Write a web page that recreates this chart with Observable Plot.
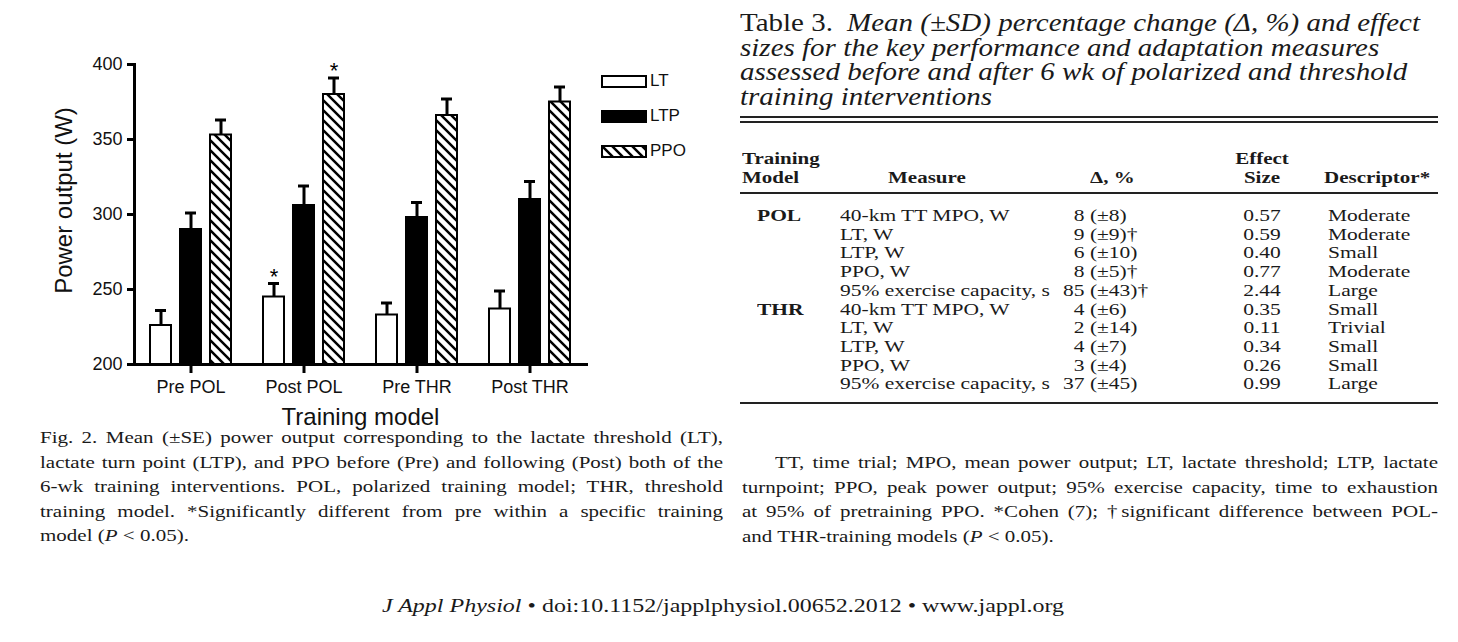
<!DOCTYPE html>
<html>
<head>
<meta charset="utf-8">
<script src="https://cdn.jsdelivr.net/npm/d3@7"></script>
<script src="https://cdn.jsdelivr.net/npm/@observablehq/plot@0.6"></script>
<style>
  html, body { margin: 0; padding: 0; background: #fff; }
  body { width: 1458px; height: 642px; position: relative; overflow: hidden; color: #222; }
  #chart { position: absolute; left: 0; top: 0; }
  #chart g[aria-label="y-axis label"] { font-size: 24px; translate: 0px -14px; }
  #chart g[aria-label="fx-axis label"] { font-size: 24px; }
  .legend { position: absolute; font-family: 'Liberation Sans', Arial, sans-serif; font-size: 17px; color: #111; }
  .rule { position: absolute; background: #222; }
</style>
</head>
<body>
<svg width="0" height="0" style="position:absolute;left:0;top:0">
  <defs>
    <pattern id="hatch" patternUnits="userSpaceOnUse" width="10" height="10">
      <rect width="10" height="10" fill="white"></rect>
      <path d="M-5,5 L5,15 M0,0 L10,10 M5,-5 L15,5" stroke="black" stroke-width="2.5"></path>
    </pattern>
  </defs>
</svg>
<div id="chart"></div>
<script>
// ---------- chart data ----------
const groups = ["Pre POL", "Post POL", "Pre THR", "Post THR"];
const series = ["LT", "LTP", "PPO"];
const ltMean = [226, 245, 233, 237];
const ltSE = [10, 9, 8, 12];
const ltSig = [false, true, false, false];
const ltpMean = [290, 306, 298, 310];
const ltpSE = [11, 13, 10, 12];
const ltpSig = [false, false, false, false];
const ppoMean = [353, 380, 366, 375];
const ppoSE = [10, 11, 11, 10];
const ppoSig = [false, true, false, false];
const yTicks = [200, 250, 300, 350, 400];
const seriesFill = ["white", "black", "url(#hatch)"];

// ---------- table data ----------
const tableTitleLines = [
  "Mean (±SD) percentage change (Δ, %) and effect",
  "sizes for the key performance and adaptation measures",
  "assessed before and after 6 wk of polarized and threshold",
  "training interventions"
];
const models = ["POL", "THR"];
const measures = ["40-km TT MPO, W", "LT, W", "LTP, W", "PPO, W", "95% exercise capacity, s"];
const polMean = [8, 9, 6, 8, 85];
const polSD = [8, 9, 10, 5, 43];
const polDagger = [false, true, false, true, true];
const polES = ["0.57", "0.59", "0.40", "0.77", "2.44"];
const polDesc = ["Moderate", "Moderate", "Small", "Moderate", "Large"];
const thrMean = [4, 2, 4, 3, 37];
const thrSD = [6, 14, 7, 4, 45];
const thrDagger = [false, false, false, false, false];
const thrES = ["0.35", "0.11", "0.34", "0.26", "0.99"];
const thrDesc = ["Small", "Trivial", "Small", "Small", "Large"];

const figCaptionLines = [
  "Fig. 2. Mean (±SE) power output corresponding to the lactate threshold (LT),",
  "lactate turn point (LTP), and PPO before (Pre) and following (Post) both of the",
  "6-wk training interventions. POL, polarized training model; THR, threshold",
  "training model. *Significantly different from pre within a specific training",
  "model (<i>P</i> &lt; 0.05)."
];
const tableNoteLines = [
  "TT, time trial; MPO, mean power output; LT, lactate threshold; LTP, lactate",
  "turnpoint; PPO, peak power output; 95% exercise capacity, time to exhaustion",
  "at 95% of pretraining PPO. *Cohen (7); †significant difference between POL-",
  "and THR-training models (<i>P</i> &lt; 0.05)."
];
const footerHTML = "<i>J Appl Physiol</i> • doi:10.1152/japplphysiol.00652.2012 • www.jappl.org";

// ---------- build chart ----------
const rows = [];
groups.forEach((g, i) => {
  rows.push({group: g, series: "LT", value: ltMean[i], se: ltSE[i], sig: ltSig[i]});
  rows.push({group: g, series: "LTP", value: ltpMean[i], se: ltpSE[i], sig: ltpSig[i]});
  rows.push({group: g, series: "PPO", value: ppoMean[i], se: ppoSE[i], sig: ppoSig[i]});
});
const errTop = d => d.value + d.se;

const chart = Plot.plot({
  width: 740,
  height: 430,
  marginLeft: 134,
  marginRight: 154,
  marginTop: 64,
  marginBottom: 66,
  style: {fontFamily: "'Liberation Sans', Arial, sans-serif", background: "transparent", color: "#111", overflow: "visible"},
  fx: {domain: groups, paddingInner: 0, paddingOuter: 0},
  x: {domain: series, paddingInner: 0.31, paddingOuter: 0.51, axis: null},
  y: {domain: [200, 400], clamp: true},
  color: {domain: series, range: seriesFill},
  marks: [
    Plot.barY(rows, {fx: "group", x: "series", y: "value", fill: "series", stroke: "black", strokeWidth: 2}),
    Plot.ruleX(rows, {fx: "group", x: "series", y1: "value", y2: errTop, stroke: "black", strokeWidth: 3}),
    Plot.tickY(rows, {fx: "group", x: "series", y: errTop, stroke: "black", strokeWidth: 3, insetLeft: 5, insetRight: 5}),
    Plot.text(rows.filter(d => d.sig), {fx: "group", x: "series", y: errTop, text: () => "*", fontSize: 22, lineAnchor: "middle", dy: -7, fill: "black"}),
    Plot.frame({anchor: "bottom", stroke: "black", strokeWidth: 3}),
    Plot.frame({anchor: "left", stroke: "black", strokeWidth: 3, facetAnchor: "left"}),
    Plot.axisY({ticks: yTicks, tickSize: 7, tickPadding: 5, fontSize: 18, stroke: "black", strokeWidth: 3,
      label: "Power output (W)", labelAnchor: "center", labelOffset: 80, labelArrow: "none"}),
    Plot.axisFx({anchor: "bottom", tickSize: 9, tickPadding: 7, fontSize: 18, stroke: "black", strokeWidth: 3,
      label: "Training model", labelAnchor: "center", labelOffset: 60, labelArrow: "none"})
  ]
});
document.getElementById("chart").appendChild(chart);

// ---------- legend ----------
const legendY = [81, 116, 151];
series.forEach((s, i) => {
  const box = document.createElement("div");
  box.className = "legend";
  box.style.left = "601px";
  box.style.top = (legendY[i] - 6) + "px";
  box.innerHTML = `<svg width="46" height="13" style="display:block"><rect x="1" y="1" width="44" height="11" fill="${seriesFill[i]}" stroke="black" stroke-width="2"></rect></svg>`;
  document.body.appendChild(box);
  const t = document.createElement("div");
  t.className = "legend";
  t.style.left = "650px";
  t.style.top = (legendY[i] - 11) + "px";
  t.style.lineHeight = "22px";
  t.textContent = s;
  document.body.appendChild(t);
});

// ---------- text helpers ----------
const SY = 0.8;
function put(html, o) {
  const d = document.createElement("div");
  d.innerHTML = html;
  const s = d.style;
  s.position = "absolute";
  s.left = o.x + "px";
  s.top = (o.y - 20) + "px";
  s.height = "40px";
  s.lineHeight = "40px";
  s.fontSize = (o.size || 21) + "px";
  s.fontFamily = "'Liberation Serif', 'Times New Roman', serif";
  if (o.w) s.width = o.w + "px";
  if (o.justify) { s.textAlign = "justify"; s.textAlignLast = "justify"; }
  else { s.whiteSpace = "nowrap"; if (o.align) s.textAlign = o.align; }
  if (o.italic) s.fontStyle = "italic";
  if (o.bold) s.fontWeight = "bold";
  s.transform = `scaleY(${o.sy ?? SY})`;
  s.transformOrigin = "0 50%";
  s.color = "#1a1a1a";
  document.body.appendChild(d);
}
function rule(x, y, w, h) {
  const r = document.createElement("div");
  r.className = "rule";
  r.style.left = x + "px"; r.style.top = y + "px";
  r.style.width = w + "px"; r.style.height = h + "px";
  document.body.appendChild(r);
}

// ---------- figure caption ----------
const capY0 = 437, capStep = 24.5;
figCaptionLines.forEach((l, i) => {
  const last = i === figCaptionLines.length - 1;
  put(l, {x: 40, y: capY0 + i * capStep, w: 683, size: 21, justify: !last});
});

// ---------- table ----------
const TL = 740, TW = 698;
const titleY = [22, 46.5, 71, 95.5];
tableTitleLines.forEach((l, i) => {
  const html = i === 0 ? `<span style="margin-right:14px">Table 3.</span><i>${l}</i>` : `<i>${l}</i>`;
  put(html, {x: TL, y: titleY[i], size: 29, sy: 0.85});
});
rule(TL, 116, TW, 1.5);
rule(TL, 121, TW, 1.5);

// header
const HS = 21;
put("Training", {x: 742, y: 158, size: HS, bold: true});
put("Model", {x: 742, y: 177, size: HS, bold: true});
put("Measure", {x: 888, y: 177, size: HS, bold: true});
put("Δ, %", {x: 1090, y: 177, size: HS, bold: true});
put("Effect", {x: 1212, y: 158, w: 100, size: HS, bold: true, align: "center"});
put("Size", {x: 1212, y: 177, w: 100, size: HS, bold: true, align: "center"});
put("Descriptor*", {x: 1324, y: 177, size: HS, bold: true});
rule(TL, 192, TW, 1.5);

const rowY0 = 215, rowStep = 18.7, BS = 21.5;
const modelData = [
  {mean: polMean, sd: polSD, dag: polDagger, es: polES, desc: polDesc},
  {mean: thrMean, sd: thrSD, dag: thrDagger, es: thrES, desc: thrDesc}
];
models.forEach((m, mi) => {
  const md = modelData[mi];
  measures.forEach((meas, j) => {
    const y = rowY0 + (mi * measures.length + j) * rowStep;
    if (j === 0) put(m, {x: 757, y, size: BS, bold: true});
    put(meas, {x: 840, y, size: BS});
    const pad = md.mean[j] < 10 ? "\u2007" : "";
    put(`${pad}${md.mean[j]} (±${md.sd[j]})${md.dag[j] ? "†" : ""}`, {x: 1063, y, size: BS});
    put(md.es[j], {x: 1212, y, w: 100, size: BS, align: "center"});
    put(md.desc[j], {x: 1328, y, size: BS});
  });
});
rule(TL, 402, TW, 1.5);

// table note
const noteY0 = 462;
tableNoteLines.forEach((l, i) => {
  const last = i === tableNoteLines.length - 1;
  const x = i === 0 ? 775 : 742;
  put(l, {x, y: noteY0 + i * capStep, w: 1438 - x, size: 21, justify: !last});
});

// footer
put(footerHTML, {x: 323, y: 606, w: 800, size: 24, align: "center"});
</script>
</body>
</html>
